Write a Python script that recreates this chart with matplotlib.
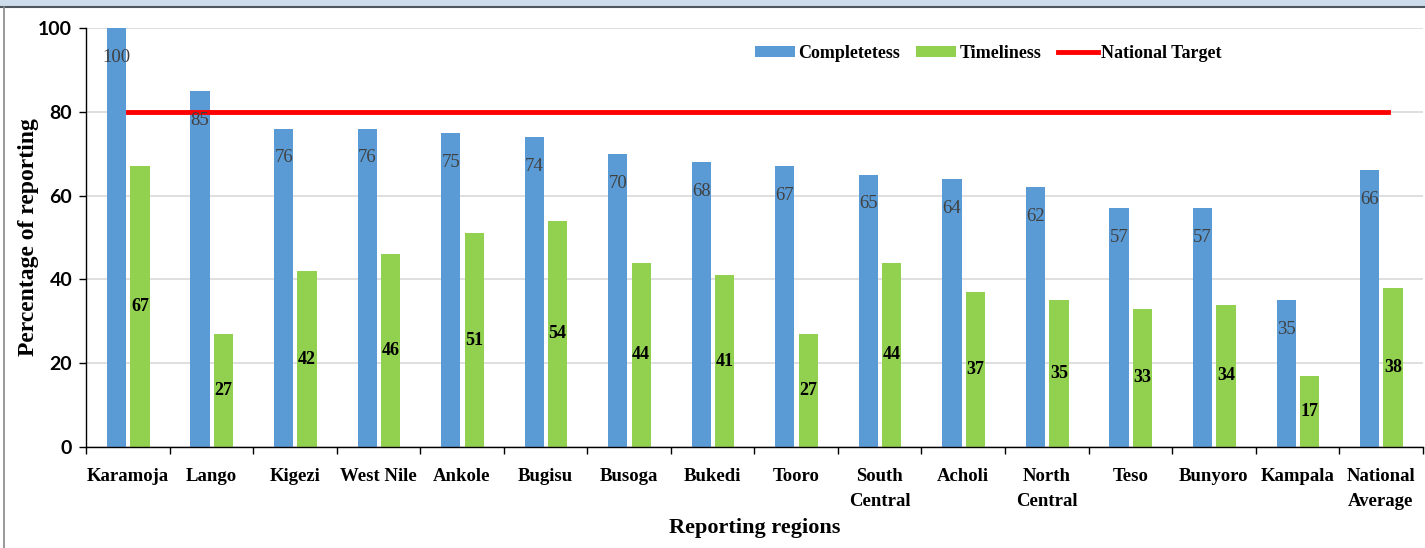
import numpy as np
import matplotlib.pyplot as plt
from matplotlib.patches import Rectangle
from matplotlib.lines import Line2D

regions = ["Karamoja", "Lango", "Kigezi", "West Nile", "Ankole", "Bugisu", "Busoga",
           "Bukedi", "Tooro", "South\nCentral", "Acholi", "North\nCentral", "Teso",
           "Bunyoro", "Kampala", "National\nAverage"]
completeness = [100, 85, 76, 76, 75, 74, 70, 68, 67, 65, 64, 62, 57, 57, 35, 66]
timeliness = [67, 27, 42, 46, 51, 54, 44, 41, 27, 44, 37, 35, 33, 34, 17, 38]
target = 80

serif = "Liberation Serif"
sans = "Lato"
blue = "#5b9bd5"
green = "#92d050"

fig = plt.figure(figsize=(14.25, 5.48), dpi=100)
ax = fig.add_axes([0.0604, 0.1843, 0.938, 0.7646])

# window chrome from the screenshot
fig.patches.append(Rectangle((0, 0.988), 1, 0.012, transform=fig.transFigure,
                             facecolor="#cddcea", edgecolor="none"))
fig.add_artist(Line2D([0, 1], [0.988, 0.988], transform=fig.transFigure,
                      color="#50565e", lw=1.5))
fig.add_artist(Line2D([0.003, 0.003], [0, 0.988], transform=fig.transFigure,
                      color="#888888", lw=1.2))

x = np.arange(len(regions))
w = 0.23
b1 = ax.bar(x - 0.135, completeness, w, color=blue, zorder=2, label="Completetess")
b2 = ax.bar(x + 0.145, timeliness, w, color=green, zorder=2, label="Timeliness")
ln, = ax.plot([x[0], x[-1] + 0.08], [target, target], color="#ff0000", lw=3.5, zorder=3,
              label="National Target")

for rect, v in zip(b1, completeness):
    ax.text(rect.get_x() + rect.get_width() / 2, v - 7, f"{v}", ha="center", va="center",
            fontsize=13.5, color="#404040", family=serif)
for rect, v in zip(b2, timeliness):
    ax.text(rect.get_x() + rect.get_width() / 2, v / 2, f"{v}", ha="center", va="center",
            fontsize=13, color="black", family=serif, fontweight="bold")

ax.set_xlim(-0.5, len(regions) - 0.5)
ax.set_ylim(0, 100)
ax.set_yticks(range(0, 101, 20))
ax.yaxis.grid(True, color="#d9d9d9", lw=1.2, zorder=0)
ax.set_axisbelow(True)

ax.set_xticks(x)
ax.set_xticklabels(regions, family=serif, fontweight="bold", fontsize=13.5,
                   linespacing=1.65)
ax.set_xticks(np.arange(-0.5, len(regions) - 0.4, 1), minor=True)
ax.tick_params(axis="x", which="major", length=0, pad=15)
ax.tick_params(axis="x", which="minor", length=5, width=1)
ax.tick_params(axis="y", length=5, width=1, pad=5)
for lab in ax.get_yticklabels():
    lab.set_family(sans)
    lab.set_fontweight("bold")
    lab.set_fontsize(14)

for s in ["top", "right"]:
    ax.spines[s].set_visible(False)
ax.spines["left"].set_linewidth(1)
ax.spines["bottom"].set_linewidth(1)

ax.set_ylabel("Percentage of reporting", family=serif, fontweight="bold",
              fontsize=17, va="center")
ax.yaxis.set_label_coords(-0.0434, 0.5)
ax.set_xlabel("Reporting regions", family=serif, fontweight="bold",
              fontsize=16, va="center")
ax.xaxis.set_label_coords(0.5, -0.193)

ax.legend(handles=[b1, b2, ln], loc="center", bbox_to_anchor=(0.675, 0.94), ncol=3,
          frameon=False, prop={"family": serif, "weight": "bold", "size": 13},
          handlelength=2.2, handleheight=0.6, columnspacing=0.9, handletextpad=0.2)

fig.savefig("out.png", dpi=100)
